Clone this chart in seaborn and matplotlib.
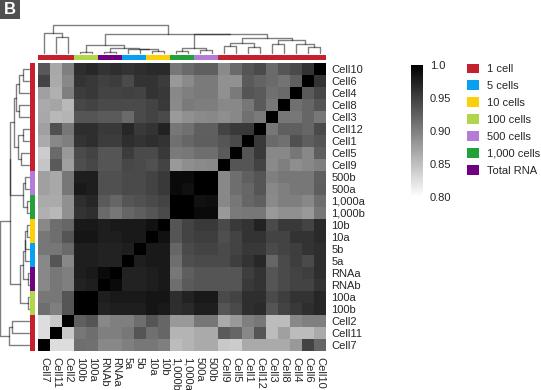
"""
Clustered correlation heatmap of single-cell / bulk RNA samples (panel B).
"""

import numpy as np
import pandas as pd
import matplotlib
matplotlib.use("Agg")
import matplotlib.pyplot as plt
from matplotlib.colors import ListedColormap
from matplotlib.patches import Patch
import seaborn as sns

# ---------------------------------------------------------------- data
ROW_ORDER = ["Cell10", "Cell6", "Cell4", "Cell8", "Cell3", "Cell12", "Cell1", "Cell5",
             "Cell9", "500b", "500a", "1,000a", "1,000b", "10b", "10a", "5b", "5a",
             "RNAa", "RNAb", "100a", "100b", "Cell2", "Cell11", "Cell7"]
COL_ORDER = ["Cell7", "Cell11", "Cell2", "100b", "100a", "RNAb", "RNAa", "5a", "5b",
             "10a", "10b", "1,000b", "1,000a", "500a", "500b", "Cell9", "Cell5", "Cell1",
             "Cell12", "Cell3", "Cell8", "Cell4", "Cell6", "Cell10"]

GROUPS = ["1 cell", "5 cells", "10 cells", "100 cells", "500 cells", "1,000 cells", "Total RNA"]
GROUP_COLORS = ["#c4202e", "#0aa0f0", "#fccf0a", "#b2d64b", "#b47bd8", "#24a23a", "#700080"]
SAMPLE_GROUP = {
    "5a": "5 cells", "5b": "5 cells",
    "10a": "10 cells", "10b": "10 cells",
    "100a": "100 cells", "100b": "100 cells",
    "500a": "500 cells", "500b": "500 cells",
    "1,000a": "1,000 cells", "1,000b": "1,000 cells",
    "RNAa": "Total RNA", "RNAb": "Total RNA",
}

# correlation values, rows = ROW_ORDER, columns = COL_ORDER
CORR = [
    [0.931, 0.868, 0.900, 0.964, 0.969, 0.960, 0.964, 0.960, 0.964, 0.967, 0.967, 0.907, 0.917, 0.925, 0.925, 0.892, 0.917, 0.933, 0.942, 0.917, 0.933, 0.942, 0.960, 1.000],
    [0.947, 0.867, 0.893, 0.960, 0.956, 0.950, 0.953, 0.942, 0.960, 0.960, 0.953, 0.880, 0.892, 0.904, 0.904, 0.886, 0.886, 0.929, 0.922, 0.917, 0.910, 0.925, 1.000, 0.960],
    [0.875, 0.862, 0.900, 0.953, 0.956, 0.947, 0.947, 0.950, 0.947, 0.960, 0.956, 0.893, 0.900, 0.904, 0.904, 0.887, 0.904, 0.933, 0.929, 0.912, 0.917, 1.000, 0.929, 0.944],
    [0.867, 0.871, 0.856, 0.944, 0.947, 0.942, 0.942, 0.942, 0.942, 0.947, 0.955, 0.892, 0.904, 0.901, 0.901, 0.893, 0.893, 0.907, 0.929, 0.907, 1.000, 0.912, 0.920, 0.933],
    [0.868, 0.856, 0.859, 0.933, 0.933, 0.929, 0.929, 0.917, 0.942, 0.947, 0.942, 0.879, 0.887, 0.892, 0.893, 0.889, 0.893, 0.912, 0.904, 1.000, 0.907, 0.907, 0.920, 0.907],
    [0.875, 0.937, 0.907, 0.964, 0.964, 0.955, 0.955, 0.969, 0.955, 0.960, 0.973, 0.907, 0.912, 0.925, 0.925, 0.947, 0.955, 0.955, 1.000, 0.907, 0.925, 0.925, 0.920, 0.942],
    [0.867, 0.893, 0.900, 0.960, 0.964, 0.953, 0.953, 0.964, 0.960, 0.964, 0.960, 0.912, 0.920, 0.926, 0.926, 0.933, 0.942, 1.000, 0.955, 0.917, 0.912, 0.937, 0.926, 0.933],
    [0.840, 0.917, 0.880, 0.942, 0.947, 0.933, 0.933, 0.953, 0.942, 0.942, 0.955, 0.904, 0.907, 0.914, 0.914, 0.929, 1.000, 0.933, 0.955, 0.893, 0.893, 0.907, 0.893, 0.925],
    [0.846, 0.929, 0.875, 0.939, 0.944, 0.933, 0.933, 0.944, 0.942, 0.937, 0.947, 0.880, 0.889, 0.892, 0.893, 1.000, 0.933, 0.933, 0.947, 0.892, 0.900, 0.889, 0.893, 0.900],
    [0.875, 0.868, 0.907, 0.976, 0.976, 0.937, 0.937, 0.942, 0.942, 0.947, 0.955, 0.992, 0.992, 1.000, 1.000, 0.893, 0.914, 0.925, 0.933, 0.900, 0.907, 0.907, 0.907, 0.925],
    [0.875, 0.868, 0.907, 0.980, 0.976, 0.937, 0.937, 0.942, 0.942, 0.947, 0.955, 0.992, 0.987, 1.000, 1.000, 0.893, 0.914, 0.920, 0.933, 0.893, 0.900, 0.907, 0.907, 0.926],
    [0.867, 0.867, 0.887, 0.964, 0.970, 0.929, 0.920, 0.933, 0.937, 0.942, 0.947, 1.000, 1.000, 0.986, 0.989, 0.893, 0.907, 0.920, 0.925, 0.892, 0.900, 0.900, 0.893, 0.914],
    [0.862, 0.856, 0.887, 0.960, 0.964, 0.917, 0.907, 0.920, 0.926, 0.933, 0.942, 1.000, 1.000, 0.992, 0.992, 0.880, 0.904, 0.907, 0.907, 0.880, 0.887, 0.887, 0.880, 0.907],
    [0.893, 0.914, 0.920, 0.980, 0.981, 0.976, 0.980, 0.980, 0.980, 0.986, 1.000, 0.933, 0.947, 0.955, 0.955, 0.942, 0.955, 0.960, 0.973, 0.942, 0.955, 0.955, 0.947, 0.967],
    [0.907, 0.914, 0.933, 0.983, 0.983, 0.976, 0.976, 0.980, 0.980, 1.000, 0.986, 0.933, 0.947, 0.951, 0.951, 0.939, 0.947, 0.960, 0.960, 0.947, 0.947, 0.960, 0.960, 0.967],
    [0.907, 0.907, 0.917, 0.976, 0.976, 0.973, 0.973, 0.976, 1.000, 0.980, 0.980, 0.920, 0.942, 0.947, 0.947, 0.942, 0.947, 0.956, 0.956, 0.942, 0.947, 0.951, 0.960, 0.964],
    [0.893, 0.933, 0.893, 0.976, 0.976, 0.973, 0.973, 1.000, 0.976, 0.980, 0.980, 0.914, 0.939, 0.942, 0.942, 0.942, 0.951, 0.960, 0.969, 0.920, 0.942, 0.951, 0.942, 0.964],
    [0.893, 0.907, 0.900, 0.976, 0.980, 0.992, 1.000, 0.973, 0.973, 0.976, 0.980, 0.907, 0.926, 0.933, 0.933, 0.933, 0.933, 0.951, 0.960, 0.933, 0.942, 0.947, 0.951, 0.964],
    [0.893, 0.907, 0.900, 0.973, 0.976, 1.000, 0.992, 0.973, 0.973, 0.976, 0.980, 0.914, 0.929, 0.933, 0.933, 0.933, 0.933, 0.955, 0.960, 0.933, 0.942, 0.947, 0.947, 0.960],
    [0.907, 0.907, 0.933, 1.000, 1.000, 0.976, 0.980, 0.980, 0.980, 0.983, 0.983, 0.964, 0.973, 0.980, 0.980, 0.942, 0.947, 0.964, 0.964, 0.942, 0.951, 0.960, 0.960, 0.970],
    [0.914, 0.900, 0.933, 1.000, 1.000, 0.973, 0.976, 0.976, 0.976, 0.983, 0.980, 0.964, 0.967, 0.976, 0.976, 0.933, 0.942, 0.964, 0.967, 0.933, 0.947, 0.955, 0.964, 0.970],
    [0.827, 0.843, 1.000, 0.925, 0.933, 0.893, 0.900, 0.900, 0.914, 0.933, 0.920, 0.880, 0.880, 0.907, 0.907, 0.867, 0.880, 0.900, 0.907, 0.853, 0.853, 0.893, 0.900, 0.900],
    [0.827, 1.000, 0.843, 0.907, 0.914, 0.900, 0.900, 0.907, 0.933, 0.912, 0.920, 0.859, 0.859, 0.867, 0.867, 0.929, 0.920, 0.893, 0.933, 0.853, 0.875, 0.853, 0.853, 0.867],
    [1.000, 0.827, 0.827, 0.914, 0.912, 0.893, 0.893, 0.900, 0.907, 0.907, 0.900, 0.853, 0.859, 0.867, 0.867, 0.843, 0.840, 0.867, 0.867, 0.867, 0.867, 0.880, 0.947, 0.920],
]

# hierarchical merges: (left, right, distance); ints refer to earlier merges
MERGES = [
    ("100b", "100a", 0.04),      # 0
    ("RNAb", "RNAa", 0.04),      # 1
    ("10a", "10b", 0.07),        # 2
    ("5b", 2, 0.12),             # 3
    ("5a", 3, 0.125),            # 4
    (1, 4, 0.16),                # 5
    (0, 5, 0.25),                # 6
    ("1,000b", "1,000a", 0.07),  # 7
    ("500a", "500b", 0.10),      # 8
    (7, 8, 0.16),                # 9
    ("Cell9", "Cell5", 0.22),    # 10
    ("Cell1", "Cell12", 0.18),   # 11
    (10, 11, 0.31),              # 12
    ("Cell3", "Cell8", 0.28),    # 13
    ("Cell6", "Cell10", 0.18),   # 14
    ("Cell4", 14, 0.28),         # 15
    (13, 15, 0.37),              # 16
    (12, 16, 0.43),              # 17
    (9, 17, 0.55),               # 18
    (6, 18, 0.555),              # 19
    ("Cell11", "Cell2", 0.48),   # 20
    ("Cell7", 20, 0.58),         # 21
    (21, 19, 0.82),              # 22
]


def dendro_links(leaves, merges):
    """U-shaped link coordinates (position, height) for each merge."""
    pos = {name: i + 0.5 for i, name in enumerate(leaves)}
    hgt = {name: 0.0 for name in leaves}
    links = []
    for k, (a, b, h) in enumerate(merges):
        pa, pb = pos[a], pos[b]
        links.append(([pa, pa, pb, pb], [hgt[a], h, h, hgt[b]]))
        pos[k] = (pa + pb) / 2
        hgt[k] = h
    return links


# ---------------------------------------------------------------- figure
sns.set_style("white")
plt.rcParams["font.family"] = ["Liberation Sans", "DejaVu Sans"]

W, H = 541, 390
fig = plt.figure(figsize=(W / 100, H / 100), dpi=100)


def px_axes(x0, y0, x1, y1):
    return fig.add_axes([x0 / W, 1 - y1 / H, (x1 - x0) / W, (y1 - y0) / H])


ax_hm = px_axes(38, 63, 326, 351)
ax_cc = px_axes(38, 55, 326, 60)
ax_rc = px_axes(30, 63, 35, 351)
ax_cd = px_axes(38, 25, 326, 53)
ax_rd = px_axes(0, 63, 29, 351)
ax_cb = px_axes(411, 65, 423, 197)

df = pd.DataFrame(CORR, index=ROW_ORDER, columns=COL_ORDER)
sns.heatmap(df, ax=ax_hm, cmap="gray_r", vmin=0.8, vmax=1.0, cbar_ax=ax_cb,
            xticklabels=True, yticklabels=True, linewidths=0, rasterized=True)
ax_hm.yaxis.tick_right()
ax_hm.tick_params(length=0, labelsize=8)
ax_hm.tick_params(axis="y", pad=4)
ax_hm.tick_params(axis="x", pad=4)
ax_hm.set_yticklabels(ROW_ORDER, rotation=0)
ax_hm.set_xticklabels(COL_ORDER, rotation=-90)
ax_hm.set_xlabel("")
ax_hm.set_ylabel("")

cb = ax_hm.collections[0].colorbar
cb.outline.set_visible(False)
cb.set_ticks([0.80, 0.85, 0.90, 0.95, 1.0])
cb.set_ticklabels(["0.80", "0.85", "0.90", "0.95", "1.0"])
cb.ax.tick_params(length=0, pad=5, labelsize=8)

# group colour strips
grp_idx = {g: i for i, g in enumerate(GROUPS)}
group_cmap = ListedColormap(GROUP_COLORS)
col_codes = pd.DataFrame([[grp_idx[SAMPLE_GROUP.get(s, "1 cell")] for s in COL_ORDER]])
row_codes = pd.DataFrame([[grp_idx[SAMPLE_GROUP.get(s, "1 cell")]] for s in ROW_ORDER])
sns.heatmap(col_codes, ax=ax_cc, cmap=group_cmap, vmin=-0.5, vmax=len(GROUPS) - 0.5,
            cbar=False, xticklabels=False, yticklabels=False)
sns.heatmap(row_codes, ax=ax_rc, cmap=group_cmap, vmin=-0.5, vmax=len(GROUPS) - 0.5,
            cbar=False, xticklabels=False, yticklabels=False)

# dendrograms
top = max(h for _, _, h in MERGES)
for xs, hs in dendro_links(COL_ORDER, MERGES):
    ax_cd.plot(xs, hs, color="black", alpha=0.5, lw=1.0, clip_on=False)
ax_cd.set_xlim(0, len(COL_ORDER))
ax_cd.set_ylim(0, top * 1.01)

for ys, hs in dendro_links(ROW_ORDER, MERGES):
    ax_rd.plot(hs, ys, color="black", alpha=0.5, lw=1.0, clip_on=False)
ax_rd.set_ylim(len(ROW_ORDER), 0)
ax_rd.set_xlim(top * 1.01, 0)

for ax in (ax_cd, ax_rd):
    ax.set_axis_off()

# legend
handles = [Patch(facecolor=c, edgecolor="none", label=g) for g, c in zip(GROUPS, GROUP_COLORS)]
fig.legend(handles=handles, loc="upper left", bbox_to_anchor=(467 / W, 1 - 63.5 / H),
           frameon=False, fontsize=8, handlelength=1.1, handleheight=1.0,
           handletextpad=0.7, labelspacing=0.55, borderpad=0, borderaxespad=0)

# panel letter
ax_b = px_axes(0, 0, 20, 19)
ax_b.set_facecolor("#505050")
ax_b.set_xticks([])
ax_b.set_yticks([])
for s in ax_b.spines.values():
    s.set_visible(False)
ax_b.text(0.5, 0.48, "B", color="white", fontsize=12, fontweight="bold",
          ha="center", va="center", transform=ax_b.transAxes)

fig.savefig("out.png", dpi=100)
